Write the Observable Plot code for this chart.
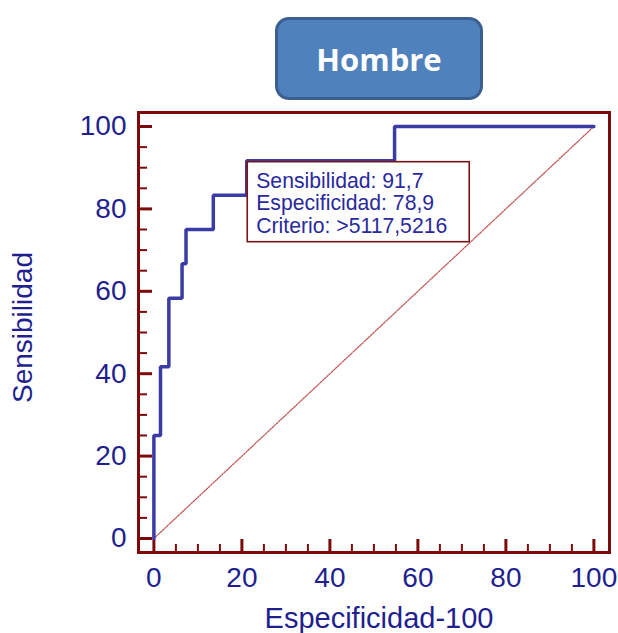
<!DOCTYPE html>
<html>
<head>
<meta charset="utf-8">
<script src="https://cdn.jsdelivr.net/npm/d3@7"></script>
<script src="https://cdn.jsdelivr.net/npm/@observablehq/plot@0.6"></script>
<style>
  body { margin: 0; background: #fff; }
  #wrap { position: relative; width: 618px; height: 633px; }
  #title {
    position: absolute; left: 275px; top: 17px; width: 208px; height: 83px;
    box-sizing: border-box; border: 3.5px solid #3a5f90; border-radius: 14px;
    background: #4f81bd; color: #fff;
    font: 700 31px "Open Sans", sans-serif;
    display: flex; align-items: center; justify-content: center;
  }
  #chart { position: absolute; left: 0; top: 100px; }
</style>
</head>
<body>
<div id="wrap">
  <div id="title">Hombre</div>
  <div id="chart"></div>
</div>
<script>
// ROC curve vertices (1 - specificity, sensitivity), in percent
const fpr = [0, 0, 1.5, 1.5, 3.4, 3.4, 6.4, 6.4, 7.3, 7.3, 13.5, 13.5, 21.1, 21.1, 54.7, 54.7, 100];
const tpr = [0, 25, 25, 41.7, 41.7, 58.3, 58.3, 66.7, 66.7, 75, 75, 83.3, 83.3, 91.7, 91.7, 100, 100];

// chance diagonal
const diagonal = [0, 100];

// axis ticks
const xTickValues = [0, 20, 40, 60, 80, 100];
const yTickValues = [0, 20, 40, 60, 80, 100];
const minorStep = 5;

// optimal cut-off point
const cutSens = 91.7;
const cutSpec = 78.9;
const cutCriterion = ">5117,5216";

const xLabel = "Especificidad-100";
const yLabel = "Sensibilidad";

const navy = "#1f1f8f";
const frameRed = "#7d0a0a";
const curveBlue = "#3b3ba6";

const fmt = v => String(v).replace(".", ",");

const roc = fpr.map((x, i) => ({x, y: tpr[i]}));
const diag = diagonal.map(v => ({x: v, y: v}));
const minorX = d3.range(0, 100 + minorStep, minorStep).filter(v => !xTickValues.includes(v));
const minorY = d3.range(0, 100 + minorStep, minorStep).filter(v => !yTickValues.includes(v));

const W = 618, H = 533;
const mL = 138, mR = 9, mT = 12, mB = 81;
const innerW = W - mL - mR, innerH = H - mT - mB;
const majorLen = 13, minorLen = 8;

// annotation box anchored at the cut-off point
function cutoffBox(index, scales) {
  const px = scales.x(100 - cutSpec) + 1;
  const py = scales.y(cutSens) + 1.5;
  const g = d3.create("svg:g");
  g.append("rect")
    .attr("x", px).attr("y", py)
    .attr("width", 222).attr("height", 80)
    .attr("fill", "#fff")
    .attr("stroke", "#7a1515")
    .attr("stroke-width", 1.6);
  const lines = [
    `Sensibilidad: ${fmt(cutSens)}`,
    `Especificidad: ${fmt(cutSpec)}`,
    `Criterio: ${cutCriterion}`
  ];
  g.append("g")
    .attr("font-family", "'Liberation Sans', Arial, sans-serif")
    .attr("font-size", 21.2)
    .attr("text-anchor", "start")
    .attr("fill", "#2a2a9c")
    .selectAll("text").data(lines).join("text")
    .attr("x", px + 9)
    .attr("y", (d, i) => py + 26 + i * 22.5)
    .text(d => d);
  return g.node();
}

const chart = Plot.plot({
  width: W,
  height: H,
  marginLeft: mL,
  marginRight: mR,
  marginTop: mT,
  marginBottom: mB,
  style: {
    fontFamily: "'Liberation Sans', Arial, sans-serif",
    fontSize: "28px",
    color: navy,
    background: "transparent",
    overflow: "visible"
  },
  x: {domain: [-3.5, 103.55]},
  y: {domain: [-3.4, 103.4]},
  marks: [
    Plot.axisX(xTickValues, {tickSize: 0, tickPadding: 15, label: null, fill: navy}),
    Plot.axisY(yTickValues, {tickSize: 0, tickPadding: 12, label: null, fill: navy}),
    // inward tick marks
    Plot.ruleX(xTickValues, {x: d => d, stroke: frameRed, strokeWidth: 3, insetTop: innerH - majorLen}),
    Plot.ruleX(minorX, {x: d => d, stroke: frameRed, strokeWidth: 2, insetTop: innerH - minorLen}),
    Plot.ruleY(yTickValues, {y: d => d, stroke: frameRed, strokeWidth: 3, insetRight: innerW - majorLen - 1}),
    Plot.ruleY(minorY, {y: d => d, stroke: frameRed, strokeWidth: 2, insetRight: innerW - minorLen - 1}),
    Plot.line(diag, {x: "x", y: "y", stroke: "#c05858", strokeWidth: 1.3, strokeDasharray: "1.6,1.4"}),
    Plot.line(roc, {x: "x", y: "y", stroke: curveBlue, strokeWidth: 3.5, strokeLinejoin: "miter"}),
    cutoffBox,
    Plot.frame({stroke: frameRed, strokeWidth: 3}),
    Plot.text([xLabel], {text: d => d, frameAnchor: "bottom", textAnchor: "middle", lineAnchor: "middle", dx: 5, dy: 66, fill: navy, fontSize: 29}),
    Plot.text([yLabel], {text: d => d, frameAnchor: "left", textAnchor: "middle", lineAnchor: "middle", rotate: -90, dx: -115, dy: -5, fill: navy, fontSize: 28})
  ]
});

document.getElementById("chart").appendChild(chart);
</script>
</body>
</html>
